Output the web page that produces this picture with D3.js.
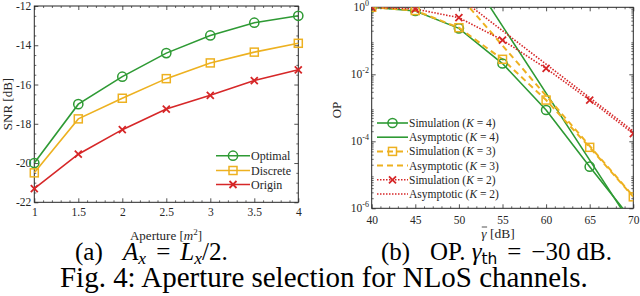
<!DOCTYPE html>
<html><head><meta charset="utf-8">
<script src="https://cdn.jsdelivr.net/npm/d3@7"></script>
<style>
body{margin:0;background:#fff;}
svg{display:block;}
</style></head>
<body><svg id="c" width="640" height="296" font-family="Liberation Serif"></svg>
<script>
// ---- Data: left panel (a) ----
const aperture = [1, 1.5, 2, 2.5, 3, 3.5, 4];
const optimal  = [-20.0, -17.0, -15.6, -14.4, -13.5, -12.85, -12.5];
const discrete = [-20.5, -17.75, -16.7, -15.7, -14.9, -14.35, -13.9];
const origin   = [-21.3, -19.55, -18.3, -17.25, -16.55, -15.8, -15.25];
const xTicksA = [1, 1.5, 2, 2.5, 3, 3.5, 4];
const yTicksA = [-22, -20, -18, -16, -14, -12];

// ---- Data: right panel (b) ----
const snr    = [40, 45, 50, 55, 60, 65, 70];
const simK4  = [1, 0.78, 0.235, 0.021, 8.6e-4, 1.75e-5, 4e-7];
const asymK4 = [2.75e5, 2.75e3, 27.5, 0.275, 2.75e-3, 2.75e-5, 2.75e-7];
const simK3  = [1, 0.80, 0.246, 0.028, 1.7e-3, 6.6e-5, 2.2e-6];
const asymK3 = [2291, 72.4, 2.29, 0.0724, 2.29e-3, 7.24e-5, 2.29e-6];
const simK2  = [1, 0.89, 0.49, 0.105, 0.015, 1.7e-3, 1.7e-4];
const asymK2 = [200, 20, 2, 0.2, 0.02, 2e-3, 2e-4];
const xTicksB = [40, 45, 50, 55, 60, 65, 70];
const yTicksB = [1e-6, 1e-4, 1e-2, 1];

const GREEN = "#2e9a34", YELLOW = "#EDB120", RED = "#D62728", AX = "#262626";
const SERIF = "Liberation Serif";

const svg = d3.select("#c");
function txt(g) { return g.append("text").attr("font-family", SERIF); }

function marker(g, type, x, y, color) {
  if (type === "o") {
    g.append("circle").attr("cx", x).attr("cy", y).attr("r", 4.6)
      .attr("fill", "none").attr("stroke", color).attr("stroke-width", 1.5);
  } else if (type === "s") {
    g.append("rect").attr("x", x - 4).attr("y", y - 4).attr("width", 8).attr("height", 8)
      .attr("fill", "none").attr("stroke", color).attr("stroke-width", 1.5);
  } else if (type === "x") {
    const s = 3.5;
    g.append("path").attr("d", `M${x-s},${y-s}L${x+s},${y+s}M${x-s},${y+s}L${x+s},${y-s}`)
      .attr("stroke", color).attr("stroke-width", 1.8).attr("fill", "none");
  }
}

function frame(g, x, y, x0, x1, y0, y1, xt, yt, xminor, yminor, yfmt, padX, padY) {
  const axes = [
    [d3.axisBottom(x).tickValues(xt).tickFormat(d3.format("")), `translate(0,${y0})`],
    [d3.axisTop(x).tickValues(xt).tickFormat(""), `translate(0,${y1})`],
    [d3.axisLeft(y).tickValues(yt).tickFormat(yfmt), `translate(${x0},0)`],
    [d3.axisRight(y).tickValues(yt).tickFormat(""), `translate(${x1},0)`]
  ];
  axes.forEach(([ax, tr], i) => {
    const isX = i < 2;
    ax.tickSizeInner(-4).tickSizeOuter(0).tickPadding(isX ? padX : padY);
    const a = g.append("g").attr("transform", tr).call(ax).attr("font-family", SERIF);
    a.select(".domain").remove();
    a.selectAll("line").attr("stroke", AX).attr("stroke-width", 0.8);
    a.selectAll("text").attr("fill", AX).attr("font-size", 11.5).attr("font-family", SERIF);
  });
  const minors = [
    [d3.axisBottom(x).tickValues(xminor), `translate(0,${y0})`],
    [d3.axisTop(x).tickValues(xminor), `translate(0,${y1})`],
    [d3.axisLeft(y).tickValues(yminor), `translate(${x0},0)`],
    [d3.axisRight(y).tickValues(yminor), `translate(${x1},0)`]
  ];
  minors.forEach(([ax, tr]) => {
    ax.tickSizeInner(-2).tickSizeOuter(0).tickFormat("");
    const a = g.append("g").attr("transform", tr).call(ax);
    a.select(".domain").remove();
    a.selectAll("line").attr("stroke", AX).attr("stroke-width", 0.7);
  });
  g.append("rect").attr("x", x0).attr("y", y1).attr("width", x1 - x0).attr("height", y0 - y1)
    .attr("fill", "none").attr("stroke", AX).attr("stroke-width", 1);
}

// ================= Panel (a) =================
{
  const x0 = 34.3, x1 = 298.3, yTop = 6, yBot = 202.3;
  const x = d3.scaleLinear().domain([1, 4]).range([x0, x1]);
  const y = d3.scaleLinear().domain([-22, -12]).range([yBot, yTop]);
  const g = svg.append("g");
  const xminor = d3.range(10, 41).map(d => d / 10).filter(d => !xTicksA.includes(d));
  const yminor = d3.range(-44, -23).map(d => d / 2).filter(d => !yTicksA.includes(d));
  frame(g, x, y, x0, x1, yBot, yTop, xTicksA, yTicksA, xminor, yminor,
        d => (d < 0 ? "-" + (-d) : String(d)), 6, 3);

  const series = [[optimal, GREEN, "o", "Optimal"], [discrete, YELLOW, "s", "Discrete"], [origin, RED, "x", "Origin"]];
  const line = d3.line().x((d, i) => x(aperture[i])).y(d => y(d));
  series.forEach(([vals, col, m]) => {
    g.append("path").datum(vals).attr("d", line).attr("fill", "none")
      .attr("stroke", col).attr("stroke-width", 1.6);
    vals.forEach((v, i) => marker(g, m, x(aperture[i]), y(v), col));
  });
  // legend
  const ly = [155.7, 170.5, 184.5];
  series.forEach(([vals, col, m, name], i) => {
    g.append("line").attr("x1", 216).attr("x2", 250).attr("y1", ly[i]).attr("y2", ly[i])
      .attr("stroke", col).attr("stroke-width", 1.6);
    marker(g, m, 233, ly[i], col);
    txt(g).attr("x", 251).attr("y", ly[i] + 4).attr("font-size", 12).attr("fill", AX).text(name);
  });
  // axis labels
  txt(g).attr("transform", `translate(12,104) rotate(-90)`).attr("text-anchor", "middle")
    .attr("font-size", 13).attr("fill", AX).text("SNR [dB]");
  const xl = txt(g).attr("x", 166).attr("y", 240).attr("text-anchor", "middle")
    .attr("font-size", 13).attr("fill", AX);
  xl.append("tspan").text("Aperture [");
  xl.append("tspan").attr("font-style", "italic").text("m");
  xl.append("tspan").attr("font-size", 9).attr("dy", -5).text("2");
  xl.append("tspan").attr("dy", 5).text("]");
}

// ================= Panel (b) =================
{
  const x0 = 371.7, x1 = 633.3, yTop = 7.3, yBot = 208.3;
  const x = d3.scaleLinear().domain([40, 70]).range([x0, x1]);
  const y = d3.scaleLog().domain([1e-6, 1]).range([yBot, yTop]);
  const g = svg.append("g");
  const xminor = d3.range(40, 71).filter(d => !xTicksB.includes(d));
  const yminor = [];
  for (let e = -6; e < 0; e++) for (let k = 2; k <= 9; k++) yminor.push(k * Math.pow(10, e));
  frame(g, x, y, x0, x1, yBot, yTop, xTicksB, yTicksB, xminor, yminor, d => "", 8, 4);
  // log labels 10^e
  yTicksB.forEach(v => {
    const e = Math.round(Math.log10(v));
    const t = txt(g).attr("x", 369).attr("y", y(v) + 4).attr("text-anchor", "end")
      .attr("font-size", 11.5).attr("fill", AX);
    t.append("tspan").text("10");
    t.append("tspan").attr("font-size", 8).attr("dy", -5).text(e === 0 ? "0" : "-" + (-e));
  });

  const defs = svg.append("defs");
  defs.append("clipPath").attr("id", "clipB").append("rect")
    .attr("x", x0).attr("y", yTop).attr("width", x1 - x0).attr("height", yBot - yTop);
  const pg = g.append("g").attr("clip-path", "url(#clipB)");
  const line = d3.line().x((d, i) => x(snr[i])).y(d => y(d));
  const series = [
    [simK4, GREEN, "o", null, 1.6, "Simulation", "4"],
    [asymK4, GREEN, null, null, 1.6, "Asymptotic", "4"],
    [simK3, YELLOW, "s", "6,4", 2, "Simulation", "3"],
    [asymK3, YELLOW, null, "6,4", 2, "Asymptotic", "3"],
    [simK2, RED, "x", "1.5,1.5", 1.6, "Simulation", "2"],
    [asymK2, RED, null, "1.5,1.5", 1.6, "Asymptotic", "2"]
  ];
  series.forEach(([vals, col, m, dash, w]) => {
    pg.append("path").datum(vals).attr("d", line).attr("fill", "none")
      .attr("stroke", col).attr("stroke-width", w).attr("stroke-dasharray", dash);
  });
  series.forEach(([vals, col, m]) => {
    if (m) vals.forEach((v, i) => { if (v >= 1e-6) marker(pg, m, x(snr[i]), y(v), col); });
  });
  // legend
  const ly0 = 123, dy = 14.2;
  series.forEach(([vals, col, m, dash, w, name, k], i) => {
    const yy = ly0 + i * dy;
    g.append("line").attr("x1", 377).attr("x2", 408).attr("y1", yy).attr("y2", yy)
      .attr("stroke", col).attr("stroke-width", w).attr("stroke-dasharray", dash);
    if (m) marker(g, m, 392.5, yy, col);
    const t = txt(g).attr("x", 409).attr("y", yy + 4).attr("font-size", 11.5).attr("fill", AX);
    t.append("tspan").text(name + " (");
    t.append("tspan").attr("font-style", "italic").text("K");
    t.append("tspan").text(" = " + k + ")");
  });
  txt(g).attr("transform", `translate(341,110) rotate(-90)`).attr("text-anchor", "middle")
    .attr("font-size", 13).attr("fill", AX).text("OP");
  const xl = txt(g).attr("x", 498).attr("y", 238).attr("text-anchor", "middle")
    .attr("font-size", 13.5).attr("fill", AX);
  xl.append("tspan").attr("font-style", "italic").text("\u03B3");
  xl.append("tspan").text(" [dB]");
  // overline bar over gamma
  const n = xl.node();
  const p0 = n.getStartPositionOfChar(0), p1 = n.getEndPositionOfChar(0);
  g.append("line").attr("x1", p0.x + 0.5).attr("x2", p1.x + 0.5)
    .attr("y1", 238 - 11).attr("y2", 238 - 11).attr("stroke", AX).attr("stroke-width", 0.8);
}

// ================= Captions =================
function fit(t, x0, x1) {
  const w = t.node().getBBox().width;
  const fs = +t.attr("font-size");
  t.attr("font-size", fs * (x1 - x0) / w);
}
{
  const ca = txt(svg).attr("x", 75).attr("y", 260).attr("font-size", 22).attr("fill", "#000");
  ca.append("tspan").text("(a)");
  ca.append("tspan").attr("dx", "0.8em").attr("font-style", "italic").text("A");
  ca.append("tspan").attr("font-style", "italic").attr("font-size", "0.7em").attr("dy", "0.2em").text("x");
  ca.append("tspan").attr("dy", "-0.14em").attr("dx", "0.4em").text("=");
  ca.append("tspan").attr("dx", "0.4em").attr("font-style", "italic").text("L");
  ca.append("tspan").attr("font-style", "italic").attr("font-size", "0.7em").attr("dy", "0.2em").text("x");
  ca.append("tspan").attr("dy", "-0.14em").text("/2.");
  fit(ca, 75, 228);

  const cb = txt(svg).attr("x", 381).attr("y", 260).attr("font-size", 22).attr("fill", "#000");
  cb.append("tspan").text("(b)");
  cb.append("tspan").attr("dx", "0.8em").text("OP. ");
  cb.append("tspan").attr("font-style", "italic").text("\u03B3");
  cb.append("tspan").attr("font-family", "DejaVu Sans").attr("font-size", "0.62em").attr("dy", "0.25em").text("th");
  cb.append("tspan").attr("dy", "-0.155em").attr("dx", "0.4em").text("=");
  cb.append("tspan").attr("dx", "0.4em").text("\u221230 dB.");
  fit(cb, 381, 612);

  const cf = txt(svg).attr("x", 60).attr("y", 287).attr("font-size", 26).attr("fill", "#000")
    .text("Fig. 4: Aperture selection for NLoS channels.");
  fit(cf, 60, 588);
}
</script></body></html>
